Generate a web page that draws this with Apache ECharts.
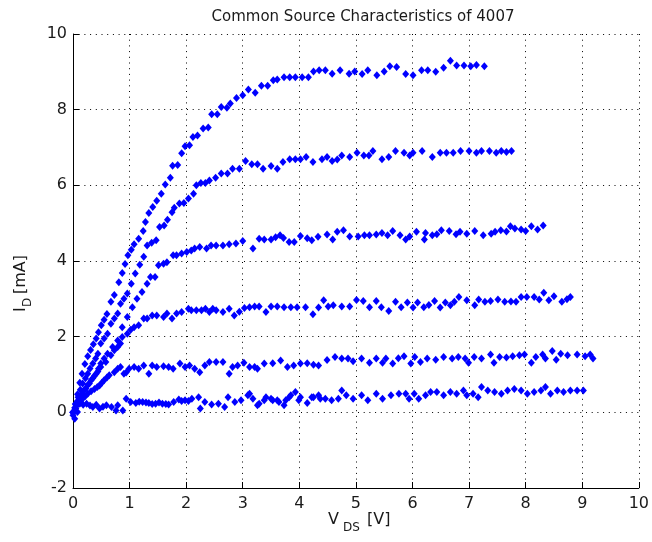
<!DOCTYPE html>
<html><head><meta charset="utf-8">
<script src="https://cdn.jsdelivr.net/npm/echarts@6/dist/echarts.min.js"></script>
<style>html,body{margin:0;padding:0;background:#fff}#c{width:652px;height:542px}</style>
</head><body><div id="c"></div>
<script>
const titleText = 'Common Source Characteristics of 4007';
const xRange = [0, 10, 1];
const yRange = [-2, 10, 2];

const curve1 = [[0,0],[0.04,0.22],[0.08,0.48],[0.12,0.78],[0.16,1.02],[0.21,1.28],[0.26,1.48],[0.31,1.65],[0.36,1.8],[0.41,1.95],[0.45,2.12],[0.5,2.3],[0.55,2.45],[0.6,2.6],[0.67,2.92],[0.73,3.1],[0.81,3.44],[0.87,3.68],[0.92,3.92],[0.97,4.15],[1.03,4.3],[1.08,4.44],[1.16,4.59],[1.24,4.79],[1.28,5.03],[1.34,5.27],[1.41,5.43],[1.48,5.59],[1.56,5.78],[1.63,6.02],[1.72,6.2],[1.76,6.52],[1.85,6.54],[1.92,6.85],[1.98,7.03],[2.06,7.06],[2.12,7.28],[2.2,7.32],[2.3,7.5],[2.39,7.53],[2.45,7.88],[2.55,7.88],[2.62,8.07],[2.72,8.05],[2.78,8.16],[2.89,8.31],[3.0,8.38],[3.1,8.53],[3.22,8.45],[3.33,8.63],[3.44,8.63],[3.54,8.78],[3.61,8.8],[3.73,8.86],[3.83,8.86],[3.93,8.86],[4.05,8.86],[4.16,8.86],[4.25,9.01],[4.35,9.04],[4.46,9.04],[4.58,8.95],[4.72,9.04],[4.88,8.95],[4.98,9.01],[5.11,8.94],[5.21,9.04],[5.37,8.91],[5.5,9.01],[5.6,9.15],[5.72,9.13],[5.88,8.94],[6.01,8.91],[6.16,9.04],[6.27,9.04],[6.41,9.0],[6.55,9.11],[6.67,9.29],[6.78,9.17],[6.91,9.17],[7.03,9.15],[7.13,9.18],[7.27,9.15]];
const curve2 = [[0,0],[0.05,0.2],[0.09,0.4],[0.13,0.6],[0.17,0.76],[0.22,0.9],[0.26,1.02],[0.3,1.16],[0.35,1.29],[0.4,1.42],[0.44,1.55],[0.49,1.82],[0.55,1.95],[0.61,2.08],[0.67,2.34],[0.73,2.48],[0.79,2.61],[0.84,2.87],[0.9,3.0],[0.96,3.14],[1.03,3.4],[1.1,3.67],[1.18,3.9],[1.25,4.11],[1.31,4.41],[1.39,4.48],[1.47,4.55],[1.53,4.9],[1.61,4.94],[1.67,5.09],[1.75,5.29],[1.79,5.41],[1.88,5.52],[1.96,5.53],[2.04,5.65],[2.13,5.78],[2.18,6.0],[2.26,6.06],[2.34,6.06],[2.41,6.13],[2.52,6.2],[2.62,6.31],[2.73,6.31],[2.82,6.44],[2.94,6.44],[3.05,6.64],[3.16,6.56],[3.26,6.56],[3.36,6.44],[3.5,6.51],[3.61,6.44],[3.71,6.62],[3.83,6.69],[3.93,6.69],[4.02,6.69],[4.12,6.75],[4.24,6.62],[4.4,6.69],[4.49,6.75],[4.58,6.64],[4.67,6.68],[4.75,6.79],[4.89,6.75],[5.02,6.86],[5.14,6.79],[5.23,6.79],[5.3,6.91],[5.46,6.69],[5.58,6.75],[5.7,6.91],[5.85,6.86],[5.95,6.79],[6.01,6.86],[6.17,6.91],[6.35,6.75],[6.49,6.86],[6.6,6.86],[6.72,6.86],[6.85,6.91],[7.0,6.91],[7.13,6.86],[7.22,6.91],[7.36,6.91],[7.48,6.86],[7.57,6.91],[7.66,6.88],[7.75,6.91]];
const curve3 = [[0,0],[0.06,0.17],[0.12,0.34],[0.17,0.49],[0.23,0.63],[0.29,0.76],[0.35,0.9],[0.41,1.02],[0.45,1.15],[0.49,1.29],[0.55,1.42],[0.61,1.55],[0.7,1.73],[0.79,1.9],[0.87,2.25],[0.96,2.52],[1.05,2.78],[1.13,3.0],[1.22,3.18],[1.31,3.4],[1.37,3.58],[1.45,3.58],[1.51,3.89],[1.6,3.93],[1.66,3.97],[1.77,4.15],[1.83,4.15],[1.92,4.2],[2.01,4.24],[2.09,4.28],[2.15,4.33],[2.24,4.37],[2.36,4.33],[2.44,4.41],[2.53,4.41],[2.65,4.41],[2.76,4.44],[2.88,4.46],[3.0,4.53],[3.18,4.33],[3.29,4.59],[3.38,4.57],[3.5,4.57],[3.58,4.63],[3.66,4.68],[3.72,4.61],[3.82,4.5],[3.91,4.5],[4.02,4.66],[4.14,4.6],[4.22,4.55],[4.33,4.64],[4.49,4.7],[4.59,4.57],[4.67,4.77],[4.78,4.81],[4.89,4.65],[5.04,4.65],[5.15,4.68],[5.24,4.68],[5.36,4.7],[5.46,4.74],[5.56,4.68],[5.65,4.79],[5.78,4.68],[5.88,4.57],[5.95,4.65],[6.07,4.77],[6.21,4.57],[6.23,4.74],[6.35,4.68],[6.43,4.71],[6.51,4.81],[6.65,4.79],[6.77,4.71],[6.84,4.77],[6.96,4.72],[7.1,4.79],[7.25,4.68],[7.39,4.72],[7.46,4.77],[7.56,4.81],[7.66,4.78],[7.73,4.92],[7.81,4.86],[7.92,4.83],[8.0,4.79],[8.1,4.92],[8.21,4.83],[8.31,4.94]];
const curve4 = [[0,0],[0.03,0.12],[0.08,0.3],[0.14,0.45],[0.2,0.6],[0.26,0.72],[0.32,0.85],[0.38,0.97],[0.44,1.08],[0.49,1.2],[0.58,1.33],[0.67,1.51],[0.73,1.64],[0.79,1.73],[0.84,1.82],[0.87,1.99],[0.96,2.08],[1.02,2.18],[1.08,2.25],[1.16,2.3],[1.25,2.48],[1.31,2.48],[1.4,2.56],[1.48,2.56],[1.6,2.52],[1.66,2.61],[1.75,2.48],[1.83,2.61],[1.92,2.65],[2.04,2.74],[2.09,2.7],[2.18,2.7],[2.27,2.7],[2.34,2.74],[2.41,2.65],[2.47,2.74],[2.53,2.7],[2.65,2.65],[2.76,2.74],[2.85,2.56],[2.94,2.66],[3.03,2.76],[3.12,2.78],[3.21,2.8],[3.29,2.8],[3.41,2.65],[3.5,2.8],[3.61,2.8],[3.73,2.78],[3.85,2.78],[3.96,2.78],[4.11,2.78],[4.24,2.59],[4.34,2.77],[4.43,2.96],[4.51,2.8],[4.6,2.83],[4.75,2.8],[4.89,2.8],[5.01,2.97],[5.13,2.94],[5.24,2.78],[5.36,2.94],[5.45,2.78],[5.58,2.68],[5.7,2.92],[5.8,2.78],[5.91,2.9],[6.01,2.77],[6.09,2.9],[6.2,2.78],[6.29,2.84],[6.39,2.94],[6.49,2.77],[6.58,2.9],[6.67,2.83],[6.74,2.92],[6.82,3.05],[6.96,2.96],[7.1,2.83],[7.17,2.98],[7.28,2.92],[7.38,2.94],[7.51,2.98],[7.63,2.92],[7.74,2.93],[7.83,2.92],[7.92,3.05],[8.02,3.05],[8.15,3.05],[8.24,2.98],[8.32,3.16],[8.41,2.96],[8.5,3.07],[8.64,2.92],[8.73,2.99],[8.79,3.05]];
const curve5 = [[0,0],[0.04,0.1],[0.09,0.23],[0.13,0.3],[0.17,0.36],[0.22,0.43],[0.26,0.49],[0.32,0.56],[0.38,0.62],[0.43,0.67],[0.47,0.71],[0.51,0.78],[0.55,0.85],[0.6,0.92],[0.64,0.98],[0.73,1.06],[0.79,1.15],[0.84,1.2],[0.9,1.02],[0.94,1.05],[0.99,1.15],[1.08,1.2],[1.16,1.15],[1.25,1.24],[1.34,1.02],[1.4,1.24],[1.48,1.2],[1.6,1.22],[1.69,1.2],[1.77,1.15],[1.89,1.29],[1.98,1.2],[2.06,1.24],[2.15,1.15],[2.24,1.06],[2.33,1.24],[2.41,1.33],[2.53,1.33],[2.65,1.33],[2.76,1.02],[2.82,1.2],[2.91,1.24],[3.02,1.31],[3.12,1.2],[3.21,1.2],[3.26,1.15],[3.38,1.29],[3.53,1.3],[3.67,1.37],[3.79,1.2],[3.9,1.24],[4.02,1.29],[4.14,1.3],[4.25,1.26],[4.34,1.24],[4.49,1.38],[4.63,1.46],[4.75,1.42],[4.86,1.42],[4.95,1.35],[5.1,1.42],[5.24,1.31],[5.36,1.42],[5.47,1.31],[5.53,1.42],[5.65,1.29],[5.75,1.43],[5.85,1.48],[5.97,1.29],[6.04,1.46],[6.14,1.33],[6.26,1.42],[6.41,1.39],[6.55,1.46],[6.7,1.42],[6.81,1.46],[6.93,1.42],[6.99,1.31],[7.09,1.46],[7.22,1.42],[7.38,1.53],[7.44,1.31],[7.54,1.46],[7.66,1.45],[7.77,1.48],[7.89,1.51],[7.98,1.53],[8.1,1.31],[8.18,1.46],[8.3,1.53],[8.35,1.42],[8.47,1.62],[8.54,1.39],[8.62,1.55],[8.74,1.51],[8.91,1.53],[9.05,1.48],[9.14,1.53],[9.19,1.42]];
const curve6 = [[0,-0.08],[0.03,-0.17],[0.05,0.1],[0.08,0.01],[0.12,0.23],[0.18,0.2],[0.24,0.23],[0.3,0.18],[0.35,0.14],[0.41,0.2],[0.47,0.1],[0.53,0.15],[0.59,0.19],[0.68,0.14],[0.76,0.05],[0.79,0.19],[0.88,0.05],[0.94,0.36],[1.02,0.27],[1.11,0.25],[1.17,0.28],[1.23,0.27],[1.29,0.26],[1.34,0.25],[1.4,0.22],[1.46,0.23],[1.52,0.26],[1.58,0.23],[1.64,0.22],[1.69,0.21],[1.78,0.27],[1.87,0.34],[1.92,0.3],[1.98,0.32],[2.04,0.3],[2.1,0.36],[2.22,0.4],[2.25,0.1],[2.33,0.27],[2.45,0.21],[2.57,0.23],[2.68,0.14],[2.74,0.4],[2.86,0.27],[2.97,0.32],[3.09,0.45],[3.12,0.49],[3.18,0.36],[3.26,0.19],[3.29,0.23],[3.38,0.32],[3.41,0.4],[3.5,0.36],[3.53,0.32],[3.61,0.32],[3.64,0.27],[3.73,0.19],[3.76,0.32],[3.82,0.4],[3.85,0.45],[3.93,0.54],[3.99,0.32],[4.02,0.4],[4.14,0.25],[4.22,0.4],[4.25,0.4],[4.34,0.45],[4.37,0.36],[4.46,0.36],[4.57,0.32],[4.69,0.36],[4.75,0.58],[4.83,0.45],[4.95,0.36],[5.1,0.45],[5.21,0.32],[5.36,0.49],[5.47,0.36],[5.62,0.45],[5.76,0.49],[5.88,0.49],[5.94,0.36],[6.03,0.49],[6.11,0.36],[6.23,0.45],[6.32,0.54],[6.43,0.54],[6.55,0.45],[6.67,0.54],[6.78,0.49],[6.9,0.58],[6.96,0.45],[7.07,0.49],[7.16,0.4],[7.22,0.67],[7.33,0.58],[7.45,0.54],[7.57,0.49],[7.68,0.58],[7.8,0.62],[7.92,0.58],[8.03,0.49],[8.15,0.54],[8.27,0.58],[8.35,0.67],[8.44,0.49],[8.56,0.58],[8.67,0.54],[8.79,0.58],[8.91,0.58],[9.02,0.58]];

const curves = [curve1, curve2, curve3, curve4, curve5, curve6];
const FONT = '"DejaVu Sans", Verdana, sans-serif';
const TXT = '#1a1a1a';

const chart = echarts.init(document.getElementById('c'), null, {renderer: 'canvas'});
const axisCommon = {
  type: 'value',
  axisLine: {show: true, onZero: false, lineStyle: {color: '#000', width: 1}},
  axisTick: {show: true, inside: true, length: 6, lineStyle: {color: '#000'}},
  axisLabel: {fontSize: 16, color: TXT, fontFamily: FONT},
  splitLine: {show: true, lineStyle: {type: [1, 4.7], color: '#000', width: 1}}
};
chart.setOption({
  animation: false,
  backgroundColor: '#fff',
  title: {
    text: titleText, left: 358, top: 5, textAlign: 'center',
    textStyle: {fontFamily: FONT, fontSize: 15, fontWeight: 'normal', color: TXT}
  },
  grid: {left: 73, right: 5, top: 34, bottom: 54},
  xAxis: Object.assign({}, axisCommon, {
    min: xRange[0], max: xRange[1], interval: xRange[2],
    axisLabel: Object.assign({}, axisCommon.axisLabel, {margin: 8})
  }),
  yAxis: Object.assign({}, axisCommon, {
    min: yRange[0], max: yRange[1], interval: yRange[2],
    axisLabel: Object.assign({}, axisCommon.axisLabel, {margin: 6})
  }),
  series: curves.map(d => ({
    type: 'scatter', data: d, symbol: 'diamond', symbolSize: [7, 8],
    itemStyle: {color: '#0000ff', opacity: 1}, silent: true
  })),
  graphic: [
    {type: 'text', left: 328, top: 512, style: {text: 'V', font: '16px ' + FONT, fill: TXT}},
    {type: 'text', left: 343, top: 522, style: {text: 'DS', font: '12px ' + FONT, fill: TXT}},
    {type: 'text', left: 367, top: 512, style: {text: '[V]', font: '16px ' + FONT, fill: TXT}},
    {type: 'group', x: 13, y: 312, rotation: Math.PI / 2, children: [
      {type: 'text', x: 0, y: 0, style: {text: 'I', font: '16px ' + FONT, fill: TXT, verticalAlign: 'top'}},
      {type: 'text', x: 5, y: 9, style: {text: 'D', font: '12px ' + FONT, fill: TXT, verticalAlign: 'top'}},
      {type: 'text', x: 18, y: 0, style: {text: '[mA]', font: '16px ' + FONT, fill: TXT, verticalAlign: 'top'}}
    ]}
  ]
});
</script></body></html>
